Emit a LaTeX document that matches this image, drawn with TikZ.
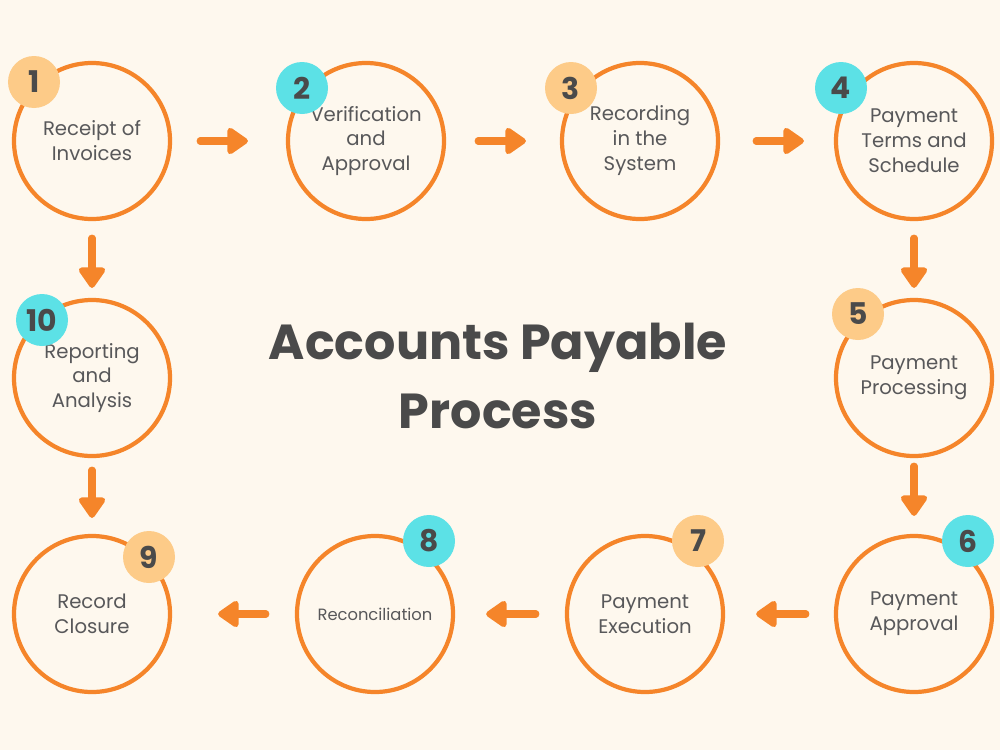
\documentclass[tikz,border=0pt]{standalone}
\usepackage{fontspec}
\setmainfont{Poppins}
\usetikzlibrary{arrows.meta}
\definecolor{bgcream}{HTML}{FEF8EE}
\definecolor{ringorange}{HTML}{F5852A}
\definecolor{badgepeach}{HTML}{FDCB88}
\definecolor{badgecyan}{HTML}{5CE1E6}
\definecolor{textgrey}{HTML}{58585A}
\definecolor{titlegrey}{HTML}{4A4A4A}
\tikzset{
  stepring/.style={circle,draw=ringorange,line width=2.4pt,fill=bgcream,
    minimum size=31.2mm,inner sep=0pt,text=textgrey,align=center,
    font=\fontsize{11.2}{14.2}\selectfont},
  badge/.style={circle,minimum size=10.4mm,inner sep=0pt,text=titlegrey,
    font=\fontsize{17}{17}\selectfont\bfseries},
  flow/.style={draw=ringorange,line width=4pt,line cap=round,
    -{Triangle[length=13pt,width=17pt,round]}}
}
\begin{document}
\begin{tikzpicture}[x=0.2mm,y=-0.2mm]
    \fill[bgcream] (0,0) rectangle (1000,750);
    \useasboundingbox (0,0) rectangle (1000,750);
    % process steps
    \foreach \n/\x/\y/\t in {
        1/92/141/{Receipt of\\Invoices},
        2/366/141/{Verification\\and\\Approval},
        3/640/141/{Recording\\in the\\System},
        4/914/141/{Payment\\Terms and\\Schedule},
        5/914/378/{Payment\\Processing},
        6/914/614/{Payment\\Approval},
        7/645/614/{Payment\\Execution},
        9/92/614/{Record\\Closure},
        10/92/378/{Reporting\\and\\Analysis}}
        \node[stepring] (c\n) at (\x,\y) {\t};
    \node[stepring,font=\fontsize{9.3}{12}\selectfont] (c8) at (375,614) {Reconciliation};
    % number badges
    \foreach \n/\x/\y/\c in {1/34/82/badgepeach,2/302/88/badgecyan,
        3/571/88/badgepeach,4/841/88/badgecyan,5/858/314/badgepeach,
        6/968/541/badgecyan,7/698/541/badgepeach,8/429/541/badgecyan,
        9/149/557/badgepeach,10/42/320/badgecyan}
        \node[badge,fill=\c] (b\n) at (\x,\y) {\n};
    % arrows
    \draw[flow,shorten <=5.6mm,shorten >=7.6mm] (c1) -- (c2);
    \draw[flow,shorten <=6.4mm,shorten >=6.8mm] (c2) -- (c3);
    \draw[flow,shorten <=7.2mm,shorten >=6mm] (c3) -- (c4);
    \draw[flow,shorten <=3.4mm,shorten >=2mm] (c4) -- (c5);
    \draw[flow,shorten <=1.6mm,shorten >=3.6mm] (c5) -- (c6);
    \draw[flow,shorten <=5.6mm,shorten >=6.2mm] (c6) -- (c7);
    \draw[flow,shorten <=5.8mm,shorten >=6.2mm] (c7) -- (c8);
    \draw[flow,shorten <=5.8mm,shorten >=9.2mm] (c8) -- (c9);
    \draw[flow,shorten <=3.4mm,shorten >=2mm] (c1) -- (c10);
    \draw[flow,shorten <=2.4mm,shorten >=3.2mm] (c10) -- (c9);
    % title
    \node[text=titlegrey,align=center,font=\fontsize{28}{39.7}\selectfont\bfseries]
        (title) at (498,376) {Accounts Payable\\Process};
\end{tikzpicture}
\end{document}
